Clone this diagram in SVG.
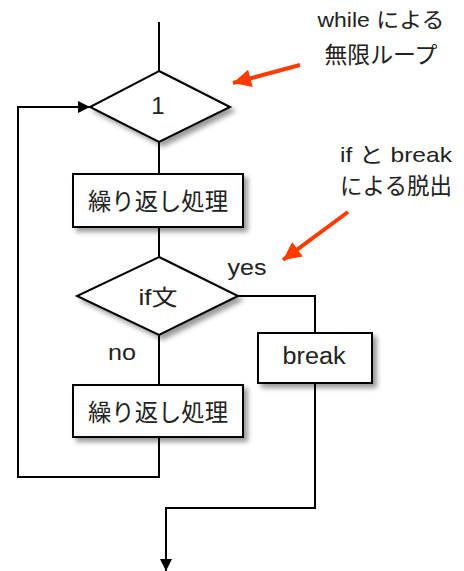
<svg xmlns="http://www.w3.org/2000/svg" width="464" height="571" viewBox="0 0 464 571">
<defs>
<filter id="sh" x="-20%" y="-20%" width="150%" height="160%">
<feGaussianBlur in="SourceAlpha" stdDeviation="2.5"/>
<feOffset dx="4" dy="4" result="b"/>
<feComponentTransfer><feFuncA type="linear" slope="0.4"/></feComponentTransfer>
<feMerge><feMergeNode/><feMergeNode in="SourceGraphic"/></feMerge>
</filter>
<marker id="ah" viewBox="0 0 10 10" refX="10" refY="5" markerWidth="14" markerHeight="12" markerUnits="userSpaceOnUse" orient="auto">
<path d="M0,0 L10,5 L0,10 z" fill="#000"/>
</marker>
<marker id="rh" viewBox="0 0 10 10" refX="10" refY="5" markerWidth="6" markerHeight="4.5" orient="auto">
<path d="M0,0 L10,5 L0,10 z" fill="#ff3b00"/>
</marker>
</defs>
<style>
.n{fill:#fff;stroke:#000;stroke-width:2}
.c{fill:none;stroke:#000;stroke-width:2}
.t{font-family:"Liberation Sans","Noto Sans CJK JP",sans-serif;fill:#222}
.m{text-anchor:middle}
.r{fill:none;stroke:#ff3b00;stroke-width:4}
</style>
<rect width="464" height="571" fill="#fff"/>
<g id="connectors">
<path class="c" d="M159,22 V71"/>
<path class="c" d="M159,142 V174"/>
<path class="c" d="M159,227 V257"/>
<path class="c" d="M238,296 H315 V333"/>
<path class="c" d="M159,335 V385"/>
<path class="c" d="M159,437 V477 H18 V107 H90" marker-end="url(#ah)"/>
<path class="c" d="M315,383 V508 H166 V571" marker-end="url(#ah)"/>
</g>
<g id="n_loop" filter="url(#sh)">
<polygon class="n" points="159,71 230,107 159,142 90,107"/>
</g>
<text class="t m" x="158" y="114" font-size="24">1</text>
<g id="n_proc1">
<rect class="n" x="73" y="174" width="170" height="53" filter="url(#sh)"/>
<text class="t m" x="158" y="210" font-size="24" textLength="140" lengthAdjust="spacingAndGlyphs">繰り返し処理</text>
</g>
<g id="n_if">
<polygon class="n" points="159,257 238,296 159,335 77,296" filter="url(#sh)"/>
<text class="t m" x="158" y="305" font-size="22" textLength="39" lengthAdjust="spacingAndGlyphs">if文</text>
</g>
<text class="t m" x="247" y="275" font-size="22" textLength="39" lengthAdjust="spacingAndGlyphs">yes</text>
<text class="t m" x="122" y="360" font-size="22" textLength="28" lengthAdjust="spacingAndGlyphs">no</text>
<g id="n_break">
<rect class="n" x="258" y="333" width="114" height="50" filter="url(#sh)"/>
<text class="t m" x="314" y="364" font-size="23" textLength="63" lengthAdjust="spacingAndGlyphs">break</text>
</g>
<g id="n_proc2">
<rect class="n" x="73" y="385" width="170" height="52" filter="url(#sh)"/>
<text class="t m" x="158" y="421" font-size="24" textLength="140" lengthAdjust="spacingAndGlyphs">繰り返し処理</text>
</g>
<g id="note1">
<text class="t m" x="381" y="27" font-size="21" textLength="127" lengthAdjust="spacingAndGlyphs">while による</text>
<text class="t m" x="381" y="63" font-size="23" textLength="113" lengthAdjust="spacingAndGlyphs">無限ループ</text>
<line class="r" x1="300" y1="65" x2="233" y2="83" marker-end="url(#rh)"/>
</g>
<g id="note2">
<text class="t m" x="396" y="162" font-size="21" textLength="112" lengthAdjust="spacingAndGlyphs">if と break</text>
<text class="t m" x="396" y="194" font-size="23" textLength="112" lengthAdjust="spacingAndGlyphs">による脱出</text>
<line class="r" x1="348" y1="212" x2="283" y2="260" marker-end="url(#rh)"/>
</g>
</svg>
